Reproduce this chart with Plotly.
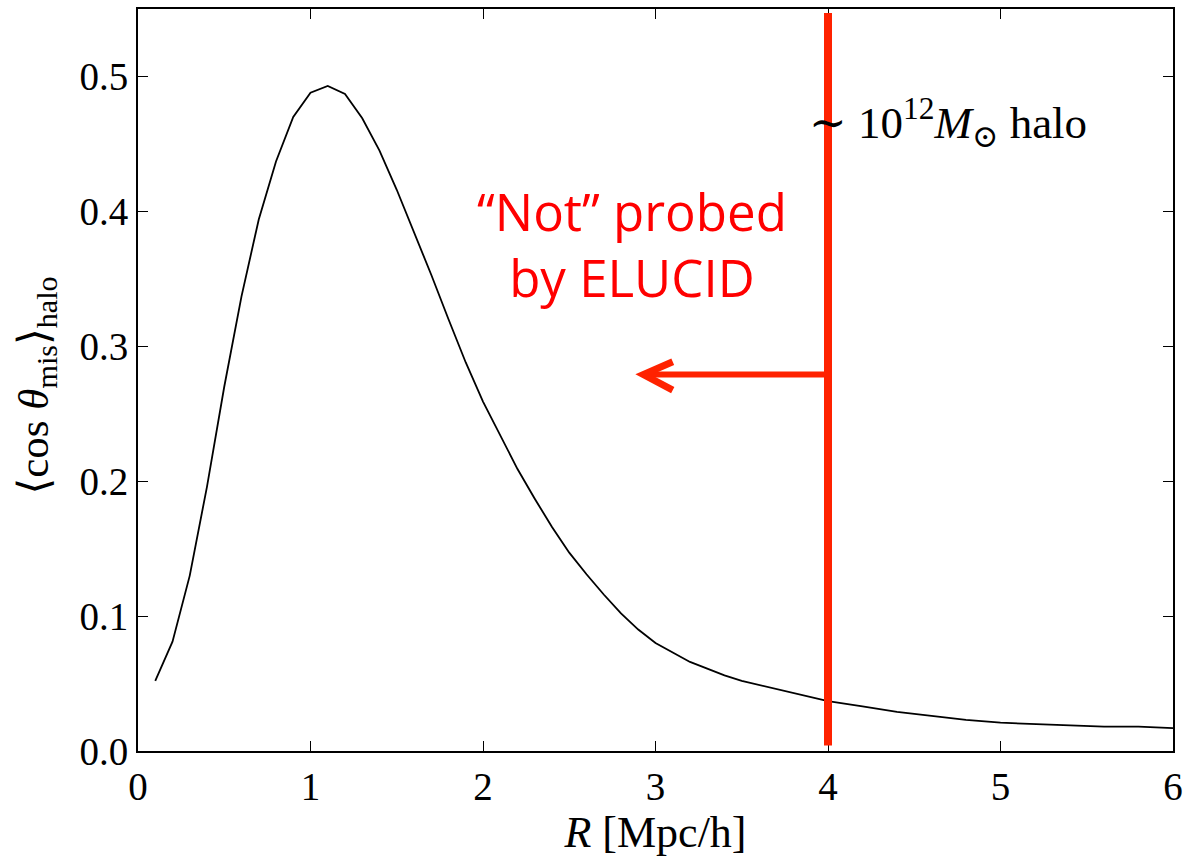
import plotly.graph_objects as go

# Data
R = [0.1, 0.2, 0.3, 0.4, 0.5, 0.6, 0.7, 0.8, 0.9, 1.0,
     1.1, 1.2, 1.3, 1.4, 1.5, 1.6, 1.7, 1.8, 1.9, 2.0,
     2.1, 2.2, 2.3, 2.4, 2.5, 2.6, 2.7, 2.8, 2.9, 3.0,
     3.1, 3.2, 3.3, 3.4, 3.5, 3.6, 3.7, 3.8, 3.9, 4.0,
     4.2, 4.4, 4.6, 4.8, 5.0, 5.2, 5.4, 5.6, 5.8, 6.0]
cos_mis = [0.052, 0.081, 0.130, 0.196, 0.270, 0.337, 0.394, 0.437, 0.470, 0.488,
           0.493, 0.487, 0.469, 0.445, 0.416, 0.385, 0.353, 0.320, 0.288, 0.259,
           0.234, 0.209, 0.187, 0.166, 0.147, 0.131, 0.116, 0.102, 0.090, 0.080,
           0.073, 0.066, 0.061, 0.056, 0.052, 0.049, 0.046, 0.043, 0.040, 0.037,
           0.033, 0.029, 0.026, 0.023, 0.021, 0.020, 0.019, 0.018, 0.018, 0.017]

x_ticks = [0, 1, 2, 3, 4, 5, 6]
y_ticks = [0.0, 0.1, 0.2, 0.3, 0.4, 0.5]

R_cut = 4.0
arrow_y = 0.279
arrow_tip = 2.93

RED = "#ff2200"
SERIF = "Liberation Serif, DejaVu Serif, serif"
SANS = "Open Sans, Noto Sans, sans-serif"

fig = go.Figure()
fig.add_trace(go.Scatter(x=R, y=cos_mis, mode="lines",
                         line=dict(color="black", width=1.8),
                         showlegend=False, hoverinfo="skip"))

# vertical red line at R = 4
fig.add_shape(type="line", xref="x", yref="y", x0=R_cut, x1=R_cut, y0=0.004, y1=0.547,
              line=dict(color=RED, width=8))
# arrow shaft
fig.add_shape(type="line", xref="x", yref="y", x0=R_cut, x1=arrow_tip + 0.01, y0=arrow_y, y1=arrow_y,
              line=dict(color=RED, width=6))
# arrow head (chevron)
fig.add_shape(type="path", xref="x", yref="y",
              path=f"M {arrow_tip+0.17},{arrow_y+0.0095} L {arrow_tip},{arrow_y} L {arrow_tip+0.17},{arrow_y-0.0115}",
              line=dict(color=RED, width=7))

fig.add_annotation(x=2.866, y=0.376, xref="x", yref="y",
                   text="“Not” probed<br>by ELUCID", showarrow=False,
                   font=dict(family=SANS, size=51, color="#ff0000"),
                   align="center", xanchor="center", yanchor="middle")

fig.add_annotation(x=3.88, y=0.466, xref="x", yref="y",
                   text="∼ 10<sup>12</sup><i>M</i><sub>⊙</sub> halo", showarrow=False,
                   font=dict(family=SERIF, size=45, color="black"),
                   xanchor="left", yanchor="middle")

# y-axis title as rotated annotation
fig.add_annotation(x=-0.098, y=0.492, xref="paper", yref="paper",
                   text="⟨cos <i>θ</i><sub>mis</sub>⟩<sub>halo</sub>", showarrow=False,
                   textangle=-90, font=dict(family=SERIF, size=43, color="black"),
                   xanchor="center", yanchor="middle")

axis_common = dict(showline=True, linecolor="black", linewidth=2, mirror="ticks",
                   ticks="inside", ticklen=10, tickwidth=1.2, tickcolor="black",
                   showgrid=False, zeroline=False,
                   tickfont=dict(family=SERIF, size=39, color="black"))

fig.update_xaxes(range=[0, 6], tickvals=x_ticks, ticktext=[str(v) for v in x_ticks],
                 title=dict(text="<i>R</i> [Mpc/h]", font=dict(family=SERIF, size=44, color="black"),
                            standoff=6),
                 **axis_common)
fig.update_yaxes(range=[0, 0.55], tickvals=y_ticks, ticktext=[f"{v:.1f}" for v in y_ticks],
                 **axis_common)

fig.update_layout(width=1190, height=859,
                  margin=dict(l=138, r=14, t=7, b=108),
                  plot_bgcolor="white", paper_bgcolor="white")

fig.write_html("out.html", config={"displayModeBar": False},
               post_script="document.body.style.margin='0';document.body.style.padding='0';")
